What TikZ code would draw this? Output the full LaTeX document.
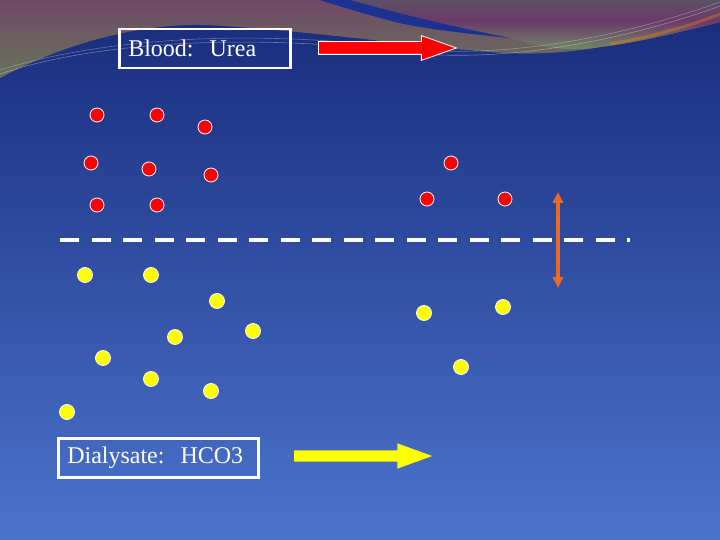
\documentclass[tikz,border=0pt]{standalone}
\usepackage{fontspec}
\setmainfont{Liberation Serif}
\usepackage{tikz}
\usetikzlibrary{arrows.meta, positioning, shapes.arrows}
\definecolor{slidetop}{HTML}{182A7A}
\definecolor{slidemid}{HTML}{3050A6}
\definecolor{slidebot}{HTML}{4B74CC}
\definecolor{stripeblue}{HTML}{1C3190}
\definecolor{swpurple}{HTML}{5E2C5E}
\definecolor{swrose}{HTML}{74416A}
\definecolor{swgreen}{HTML}{5F8A55}
\definecolor{swgrey}{HTML}{4A6C62}
\definecolor{swmauve}{HTML}{6B3A6A}
\definecolor{swolive}{HTML}{6E8E64}
\definecolor{ureared}{HTML}{FF0000}
\definecolor{bicarbyellow}{HTML}{FFFF00}
\definecolor{fluxorange}{HTML}{E66A28}
\pgfdeclareverticalshading{leftband}{100bp}{color(0bp)=(swgreen);
  color(35bp)=(swgreen!60!swrose); color(75bp)=(swrose); color(100bp)=(swpurple)}
\pgfdeclareverticalshading{rightband}{100bp}{color(0bp)=(swolive);
  color(25bp)=(swolive); color(55bp)=(swmauve); color(100bp)=(swgrey)}
\tikzset{
  labelbox/.style={draw=white, line width=2.5pt, text=white, inner xsep=9pt,
    inner ysep=0pt, minimum height=39pt, align=left, anchor=north west,
    font=\fontsize{24}{28}\selectfont},
  ureadot/.style={circle, fill=ureared, draw=white, line width=0.8pt,
    minimum size=14pt, inner sep=0pt},
  bicarbdot/.style={circle, fill=bicarbyellow, draw=white, line width=0.8pt,
    minimum size=15pt, inner sep=0pt},
  flowarrow/.style={single arrow, inner xsep=0pt, inner ysep=6pt,
    minimum height=138pt, single arrow head extend=6pt,
    single arrow tip angle=39, anchor=tail},
  membrane/.style={white, line width=4.5pt, dash pattern=on 19pt off 12.5pt},
}

\begin{document}
\begin{tikzpicture}[x=1pt, y=-1pt]
  \useasboundingbox (0,0) rectangle (720,540);

  % ===== slide background =====
  \shade[top color=slidetop, middle color=slidemid, bottom color=slidebot]
        (0,0) rectangle (720,540);

  % swoosh band along the top edge
  \fill[swgreen!55!swrose]
        (0,0) -- (720,0) -- (720,22)
        .. controls (680,32) and (640,42) .. (600,47)
        .. controls (560,54) and (520,55) .. (480,51)
        .. controls (400,44) and (300,30) .. (210,25)
        .. controls (140,22) and (60,45) .. (0,78) -- cycle;
  \shade[shading=leftband, opacity=0.8]
        (0,0) -- (720,0) -- (720,22)
        .. controls (680,32) and (640,42) .. (600,47)
        .. controls (560,54) and (520,55) .. (480,51)
        .. controls (400,44) and (300,30) .. (210,25)
        .. controls (140,22) and (60,45) .. (0,78) -- cycle;
  \shade[shading=rightband]
        (350,0) -- (720,0) -- (720,22)
        .. controls (680,32) and (640,42) .. (600,47)
        .. controls (570,52) and (540,48) .. (510,38)
        .. controls (450,26) and (400,14) .. (350,0) -- cycle;
  \fill[stripeblue]
        (320,0) -- (350,0)
        .. controls (400,14) and (450,26) .. (510,38)
        .. controls (460,33) and (420,28) .. (395,22)
        .. controls (365,14) and (338,6) .. (320,0) -- cycle;
  \draw[orange!70!brown, opacity=0.4, line width=3pt]
        (610,44) .. controls (650,37) and (690,26) .. (720,14);
  \draw[white, opacity=0.35, line width=0.6pt]
        (0,74) .. controls (100,40) and (260,34) .. (400,52)
        .. controls (500,64) and (620,42) .. (720,6);
  \draw[white, opacity=0.3, line width=0.6pt]
        (0,70) .. controls (110,36) and (260,30) .. (400,48)
        .. controls (500,60) and (620,38) .. (720,2);

  % ===== labels and flow arrows =====
  \node[labelbox, text width=153pt] (blood) at (118,28) {Blood:\ \ Urea};
  \node[flowarrow, fill=ureared, draw=white, line width=0.8pt]
        (bloodflow) at (318,48) {};

  \node[labelbox, text width=182pt] (dialysate) at (57,437) {Dialysate:\ \ HCO3};
  \node[flowarrow, fill=bicarbyellow, inner ysep=5.5pt,
        single arrow head extend=7pt, single arrow tip angle=40]
        (dialflow) at (294,456) {};

  % ===== membrane =====
  \coordinate (memleft) at (60,240);
  \coordinate (memright) at (630,240);
  \draw[membrane] (memleft) -- (memright);

  \coordinate (fluxtop) at (558,192);
  \coordinate (fluxbot) at (558,288);
  \draw[{Triangle[length=11pt, width=10pt]}-{Triangle[length=11pt, width=10pt]},
        fluxorange, line width=3.5pt] (fluxtop) -- (fluxbot);

  % ===== urea (blood side) =====
  \foreach \px/\py [count=\i] in {97/115, 157/115, 205/127, 91/163, 149/169,
      211/175, 97/205, 157/205, 451/163, 427/199, 505/199}
    \node[ureadot] (u\i) at (\px,\py) {};

  % ===== bicarbonate (dialysate side) =====
  \foreach \px/\py [count=\i] in {85/275, 151/275, 217/301, 253/331, 175/337,
      103/358, 151/379, 211/391, 67/412, 424/313, 503/307, 461/367}
    \node[bicarbdot] (h\i) at (\px,\py) {};
\end{tikzpicture}
\end{document}
